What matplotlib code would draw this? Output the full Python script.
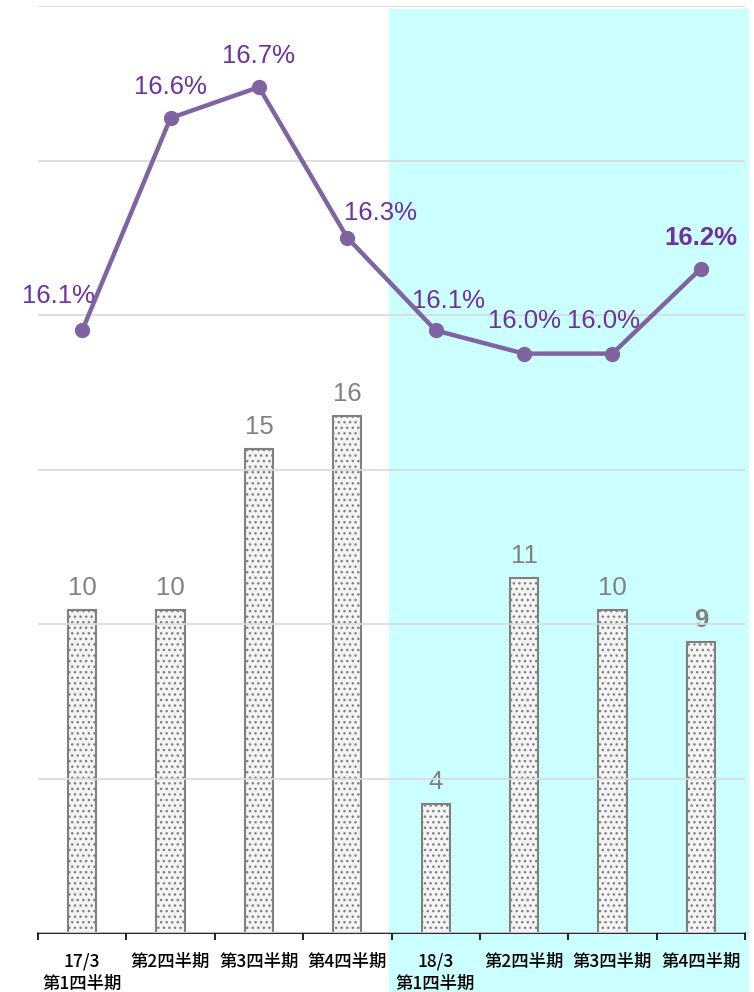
import matplotlib.pyplot as plt
import numpy as np

plt.rcParams['font.family'] = ['Liberation Sans', 'Noto Sans CJK JP', 'DejaVu Sans']
plt.rcParams['hatch.color'] = '#B8B8B8'
plt.rcParams['hatch.linewidth'] = 1.0

# データ
categories = ['17/3\n第1四半期', '第2四半期', '第3四半期', '第4四半期',
              '18/3\n第1四半期', '第2四半期', '第3四半期', '第4四半期']
bar_values = [10, 10, 15, 16, 4, 11, 10, 9]
rate_values = [16.06, 16.61, 16.69, 16.30, 16.06, 16.00, 16.00, 16.22]
rate_labels = ['16.1%', '16.6%', '16.7%', '16.3%', '16.1%', '16.0%', '16.0%', '16.2%']

x = np.arange(len(categories))

fig = plt.figure(figsize=(7.54, 9.92), dpi=100)
ax = fig.add_axes([38 / 754, 1 - 933 / 992, (745 - 38) / 754, (933 - 6) / 992])
ax2 = ax.twinx()
ax.set_zorder(ax2.get_zorder() - 1)
ax.patch.set_visible(False)
ax2.patch.set_visible(False)

# 背景（18/3期以降）
ax.axvspan(3.47, 7.53, ymin=-0.07, ymax=0.997, color='#CCFFFF', zorder=0, clip_on=False)

# 棒グラフ
bars = ax.bar(x, bar_values, width=0.32, facecolor='#F4F4F4', edgecolor='#808080',
              linewidth=1.5, hatch='...', zorder=3)
ax.set_ylim(0, 28.7)
ax.set_xlim(-0.5, 7.5)
for i, v in enumerate(bar_values):
    ax.text(x[i], v + 0.68, str(v), ha='center', va='center', fontsize=18.5,
            color='#808080', fontweight='bold' if i == len(bar_values) - 1 else 'normal',
            zorder=4)

# 折れ線（右軸、目盛非表示）
ax2.set_ylim(14.5, 16.9)
ax2.set_yticks(np.arange(14.5, 16.95, 0.4))
ax2.yaxis.grid(True, color='#D9D9D9', linewidth=1.2)
ax2.tick_params(axis='y', length=0, labelright=False)
ax2.plot(x, rate_values, color='#8064A2', linewidth=3.2, marker='o', markersize=10, zorder=5)

offsets = [(-0.27, 0.09), (0, 0.08), (0, 0.08), (0.37, 0.065),
           (0.15, 0.075), (0, 0.085), (-0.1, 0.085), (0, 0.08)]
for i, (v, lab) in enumerate(zip(rate_values, rate_labels)):
    dx, dy = offsets[i]
    ax2.text(x[i] + dx, v + dy, lab, ha='center', va='center', fontsize=18.5,
             color='#7030A0', fontweight='bold' if i == len(rate_values) - 1 else 'normal')

# 軸
for a in (ax, ax2):
    for s in ('top', 'right', 'left'):
        a.spines[s].set_visible(False)
ax2.spines['bottom'].set_visible(False)
ax.spines['bottom'].set_color('black')
ax.spines['bottom'].set_linewidth(1.2)
ax.set_yticks([])
ax.set_xticks(np.arange(-0.5, 7.6, 1), minor=True)
ax.set_xticks(x)
ax.set_xticklabels(categories, fontsize=12.5, fontweight='medium', linespacing=1.35,
                   family=['Noto Sans CJK JP', 'DejaVu Sans'])
ax.tick_params(axis='x', which='major', length=0, pad=14)
ax.tick_params(axis='x', which='minor', length=5, width=1.2, direction='out')

fig.savefig('out.png', dpi=100)
